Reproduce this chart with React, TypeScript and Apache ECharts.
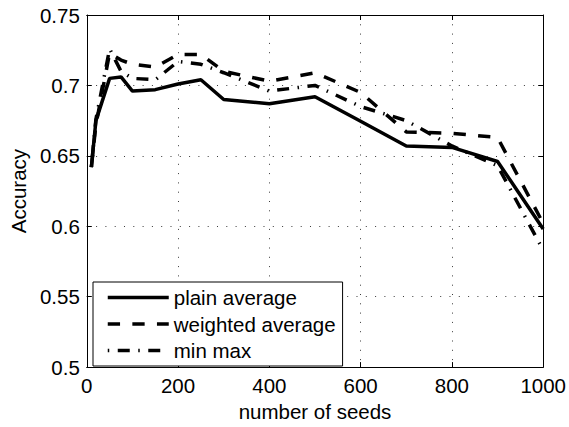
import React, { useEffect, useRef } from "react";
import * as echarts from "echarts";

const seeds = [10, 20, 50, 75, 100, 150, 200, 250, 300, 400, 500, 600, 700, 800, 900, 1000];
const plainAverage = [0.642, 0.675, 0.705, 0.706, 0.696, 0.697, 0.701, 0.704, 0.690, 0.687, 0.692, 0.6745, 0.657, 0.656, 0.646, 0.598];
const weightedAverage = [0.642, 0.672, 0.723, 0.718, 0.715, 0.713, 0.722, 0.722, 0.710, 0.703, 0.709, 0.695, 0.667, 0.666, 0.663, 0.602];
const minMax = [0.642, 0.676, 0.726, 0.710, 0.705, 0.704, 0.717, 0.715, 0.709, 0.696, 0.700, 0.685, 0.675, 0.657, 0.643, 0.583];
const seriesNames = ["plain average", "weighted average", "min max"];
const xTitle = "number of seeds";
const yTitle = "Accuracy";

const FONT = "'Liberation Sans', Arial, Helvetica, sans-serif";
const FS = 20.5;

export default function App() {
  const ref = useRef<HTMLDivElement>(null);
  useEffect(() => {
    if (!ref.current) return;
    const chart = echarts.init(ref.current, undefined, { renderer: "svg" });
    const pair = (ys: number[]) => seeds.map((x, i) => [x, ys[i]]);
    const gridLine = { show: true, lineStyle: { color: "#3a3a3a", width: 1, type: [1, 8.3] as any } };
    const axisLine = { show: true, onZero: false, lineStyle: { color: "#000", width: 1 } };
    const tick = { show: true, inside: true, length: 5, lineStyle: { color: "#000", width: 1 } };
    const fmtY = (v: number) => String(+v.toFixed(2));
    const fmtX = (v: number) => String(v);
    chart.setOption({
      animation: false,
      backgroundColor: "#fff",
      textStyle: { fontFamily: FONT },
      grid: { left: 83, right: 24, top: 15, bottom: 53, containLabel: false },
      xAxis: [
        {
          type: "value", min: 0, max: 1000, interval: 200, position: "bottom",
          name: xTitle, nameLocation: "middle", nameGap: 26,
          nameTextStyle: { fontSize: FS, color: "#000", fontFamily: FONT },
          axisLine, axisTick: tick, splitLine: gridLine,
          axisLabel: { fontSize: FS, color: "#000", margin: 8, fontFamily: FONT, formatter: fmtX },
        },
        {
          type: "value", min: 0, max: 1000, interval: 200, position: "top",
          axisLine, axisTick: tick, splitLine: { show: false }, axisLabel: { show: false },
        },
      ],
      yAxis: [
        {
          type: "value", min: 0.5, max: 0.75, interval: 0.05, position: "left",
          name: yTitle, nameLocation: "middle", nameGap: 56, nameRotate: 90,
          nameTextStyle: { fontSize: FS, color: "#000", fontFamily: FONT },
          axisLine, axisTick: tick, splitLine: gridLine,
          axisLabel: { fontSize: FS, color: "#000", margin: 7, fontFamily: FONT, formatter: fmtY },
        },
        {
          type: "value", min: 0.5, max: 0.75, interval: 0.05, position: "right",
          axisLine, axisTick: tick, splitLine: { show: false }, axisLabel: { show: false },
        },
      ],
      legend: {
        show: true, orient: "vertical", left: 93, top: 282,
        backgroundColor: "#fff", borderColor: "#000", borderWidth: 1, borderRadius: 0,
        padding: [5, 7, 5, 13], itemWidth: 61, itemHeight: 20, itemGap: 5.5,
        itemStyle: { opacity: 0 },
        lineStyle: { width: 3.5 },
        textStyle: { fontSize: FS, color: "#000", fontFamily: FONT, lineHeight: 21 },
        data: seriesNames,
      },
      series: [
        {
          name: seriesNames[0], type: "line", data: pair(plainAverage), symbol: "none",
          color: "#000", lineStyle: { color: "#000", width: 3.5, type: "solid" },
        },
        {
          name: seriesNames[1], type: "line", data: pair(weightedAverage), symbol: "none",
          color: "#000", lineStyle: { color: "#000", width: 3.5, type: [12.3, 12.3] },
        },
        {
          name: seriesNames[2], type: "line", data: pair(minMax), symbol: "none",
          color: "#000", lineStyle: { color: "#000", width: 3.5, type: [1.5, 8.5, 12, 8.5] },
        },
      ],
    });
    return () => chart.dispose();
  }, []);
  return <div ref={ref} style={{ position: "fixed", left: 0, top: 0, width: 569, height: 427 }} />;
}
